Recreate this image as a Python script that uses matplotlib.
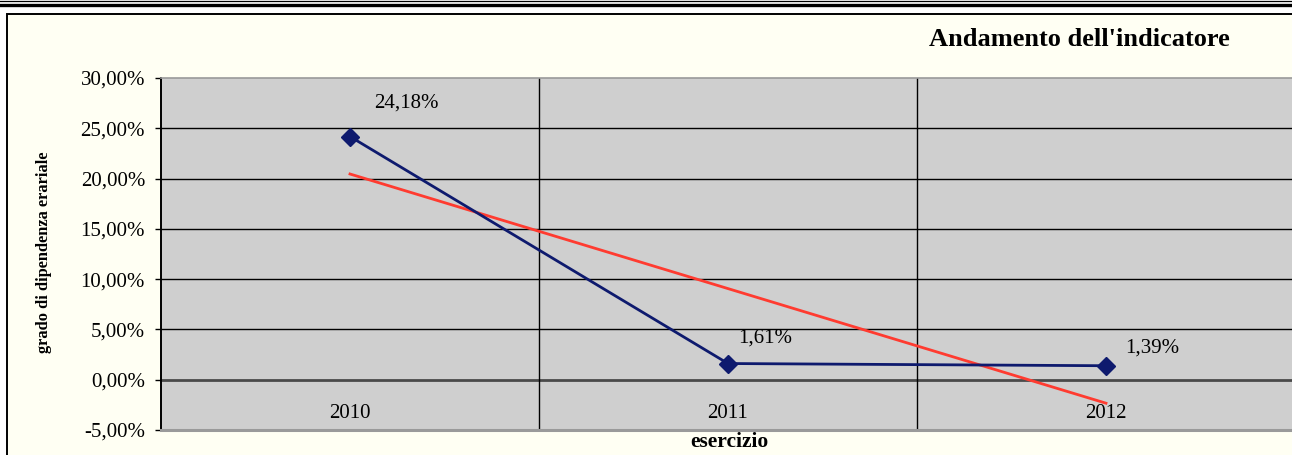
import matplotlib
matplotlib.use("Agg")
import matplotlib.pyplot as plt
import numpy as np
from matplotlib.lines import Line2D
from matplotlib.patches import Rectangle

# ---- data ----
years = ["2010", "2011", "2012"]
values = [24.18, 1.61, 1.39]
value_labels = ["24,18%", "1,61%", "1,39%"]
y_ticks = [-5, 0, 5, 10, 15, 20, 25, 30]
y_tick_labels = ["-5,00%", "0,00%", "5,00%", "10,00%", "15,00%", "20,00%", "25,00%", "30,00%"]
title = "Andamento dell'indicatore"
y_title = "grado di dipendenza erariale"
x_title = "esercizio"

W, H = 1292, 455
plt.rcParams['font.family'] = ['Liberation Serif', 'DejaVu Serif']
fig = plt.figure(figsize=(W / 100, H / 100), dpi=100)
fig.patch.set_facecolor('white')

# outer frame
frame = Rectangle((6.5 / W, -0.1), 1.2, 1 - 13.5 / H + 0.1, transform=fig.transFigure,
                  facecolor='#FFFFF3', edgecolor='black', linewidth=1.4, zorder=-5)
fig.patches.append(frame)
# double top rule
fig.add_artist(Line2D([0, 1], [1 - 0.5 / H, 1 - 0.5 / H], transform=fig.transFigure,
                      color='black', linewidth=0.9))
fig.add_artist(Line2D([0, 1], [1 - 4.5 / H, 1 - 4.5 / H], transform=fig.transFigure,
                      color='black', linewidth=2.4))

left, right = 161 / W, 1295 / W
bottom, top = 1 - 430 / H, 1 - 78 / H
ax = fig.add_axes([left, bottom, right - left, top - bottom])
ax.set_zorder(5)
ax.set_facecolor('#CFCFCF')
x = np.arange(len(years))
ax.set_xlim(-0.5, len(years) - 0.5)
ax.set_ylim(-5, 30)

# grid
for yt in y_ticks:
    if yt in (-5, 30):
        continue
    ax.axhline(yt, color='black' if yt != 0 else '#4A4A4A',
               linewidth=1.0 if yt != 0 else 2.0, zorder=1)
for xb in x[:-1] + 0.5:
    ax.axvline(xb, color='black', linewidth=1.0, zorder=1)

# series
ax.plot(x, values, color='#0E1A6E', linewidth=2.0, marker='D', markersize=9,
        markerfacecolor='#0E1A6E', markeredgecolor='#0E1A6E', zorder=4)
# linear trendline
coef = np.polyfit(x, values, 1)
ax.plot(x, np.polyval(coef, x), color='#FF3B30', linewidth=2.0, zorder=3)

# data labels
offsets = [(56, 33), (37, 25), (46, 18)]
for xi, v, lab, (dx, dy) in zip(x, values, value_labels, offsets):
    ax.annotate(lab, (xi, v), xytext=(dx * 0.72, dy * 0.72), textcoords='offset points',
                ha='center', va='center', fontsize=15, color='black', zorder=5)

# axes styling
ax.set_yticks(y_ticks)
ax.set_yticklabels(y_tick_labels, fontsize=15)
ax.tick_params(axis='y', length=4.5, width=1.0, pad=7, direction='out', colors='black')
ax.set_xticks(x)
ax.set_xticklabels(years, fontsize=15)
ax.tick_params(axis='x', length=0, pad=-19)
ax.spines['right'].set_visible(False)
ax.spines['left'].set_color('black')
ax.spines['left'].set_linewidth(1.4)
ax.spines['top'].set_color('#9A9A9A')
ax.spines['top'].set_linewidth(1.2)
ax.spines['bottom'].set_color('#9A9A9A')
ax.spines['bottom'].set_linewidth(2.2)

fig.text(929 / W, 1 - 40 / H, title, fontsize=19, fontweight='bold', ha='left', va='center')
fig.text(44 / W, 1 - 252.5 / H, y_title, fontsize=11.8, fontweight='bold', rotation=90,
         ha='center', va='center')
fig.text(729.5 / W, 1 - 442 / H, x_title, fontsize=15.5, fontweight='bold', ha='center', va='center')

fig.savefig('out.png', dpi=100, facecolor=fig.get_facecolor())
